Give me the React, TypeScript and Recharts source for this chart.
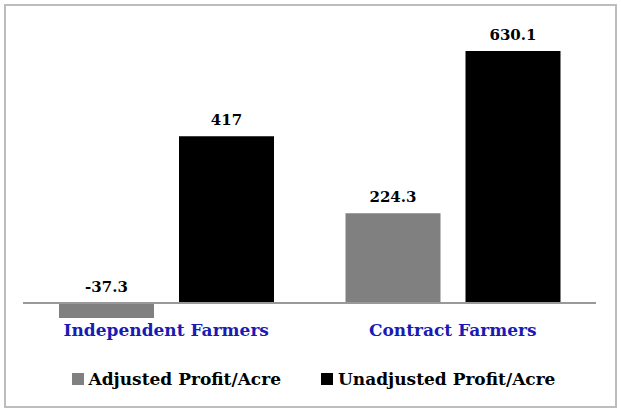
import React from "react";
import { BarChart, Bar, XAxis, YAxis, ReferenceLine, LabelList } from "recharts";

const categories = ["Independent Farmers", "Contract Farmers"];
const adjustedProfit = [-37.3, 224.3];
const unadjustedProfit = [417, 630.1];
const seriesNames = ["Adjusted Profit/Acre", "Unadjusted Profit/Acre"];

const data = categories.map((c, i) => ({
  name: c,
  adjusted: adjustedProfit[i],
  unadjusted: unadjustedProfit[i],
}));

const FONT = "'DejaVu Serif', serif";
const GRAY = "#808080";
const BLACK = "#000000";

const ValueLabel = (props: any) => {
  const { x, y, width, height, value } = props;
  const top = Math.min(y, y + height);
  return (
    <text
      x={x + width / 2}
      y={top - 11}
      textAnchor="middle"
      fontFamily={FONT}
      fontWeight="bold"
      fontSize={15}
      fill="#000"
    >
      {value}
    </text>
  );
};

const CategoryTick = (props: any) => {
  const { x, payload } = props;
  return (
    <text
      x={x}
      y={336}
      textAnchor="middle"
      fontFamily={FONT}
      fontWeight="bold"
      fontSize={17}
      fill="#1a1ab4"
    >
      {payload.value}
    </text>
  );
};

const LegendBlock = () => {
  const colors = [GRAY, BLACK];
  return (
    <div
      style={{
        position: "absolute",
        left: 0,
        top: 369,
        width: 621,
        display: "flex",
        justifyContent: "center",
        alignItems: "center",
        fontFamily: FONT,
        fontWeight: "bold",
        fontSize: 17,
        color: "#000",
        gap: 40,
        paddingLeft: 6,
        boxSizing: "border-box",
      }}
    >
      {seriesNames.map((n, i) => (
        <div key={n} style={{ display: "flex", alignItems: "center" }}>
          <span
            style={{
              display: "inline-block",
              width: 12,
              height: 12,
              background: colors[i],
              marginRight: 5,
            }}
          />
          <span>{n}</span>
        </div>
      ))}
    </div>
  );
};

export default function App() {
  return (
    <div style={{ position: "absolute", left: 0, top: 0, width: 621, height: 412, background: "#fff" }}>
      <div
        style={{
          position: "absolute",
          left: 4,
          top: 4,
          width: 609,
          height: 400,
          border: "2px solid #bdbdbd",
        }}
      />
      <div style={{ position: "absolute", left: 0, top: 0 }}>
        <BarChart
          width={621}
          height={412}
          data={data}
          margin={{ top: 23, right: 25, left: 23, bottom: 59 }}
          barSize={95}
          barGap={25}
        >
          <XAxis
            dataKey="name"
            axisLine={false}
            tickLine={false}
            tick={<CategoryTick />}
            height={30}
            interval={0}
          />
          <YAxis hide domain={[-50, 700]} />
          <ReferenceLine y={0} stroke="#999999" strokeWidth={2} />
          <Bar dataKey="adjusted" name={seriesNames[0]} fill={GRAY} isAnimationActive={false}>
            <LabelList dataKey="adjusted" content={<ValueLabel />} />
          </Bar>
          <Bar dataKey="unadjusted" name={seriesNames[1]} fill={BLACK} isAnimationActive={false}>
            <LabelList dataKey="unadjusted" content={<ValueLabel />} />
          </Bar>
        </BarChart>
      </div>
      <LegendBlock />
    </div>
  );
}
